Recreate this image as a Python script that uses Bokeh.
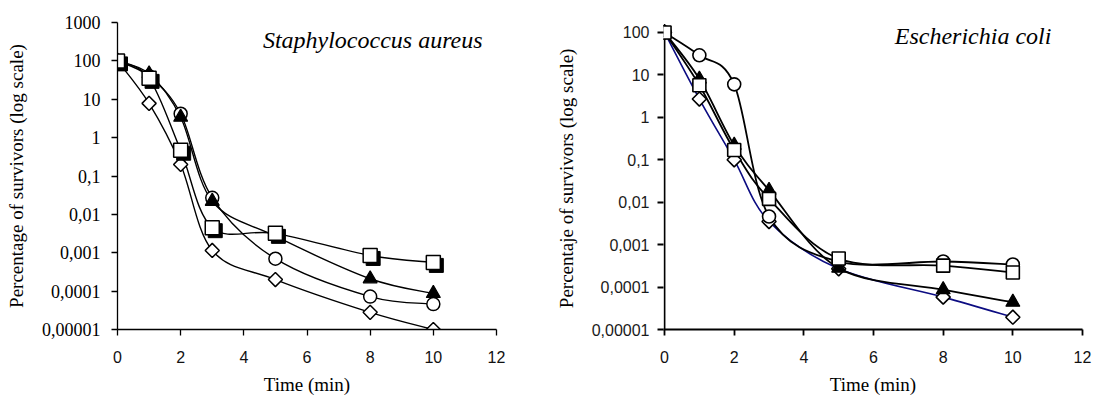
import numpy as np
from bokeh.plotting import figure
from bokeh.models import FixedTicker, Label, ColumnDataSource
from bokeh.layouts import row
from bokeh.embed import file_html
from bokeh.resources import INLINE

# ---------------- data ----------------
time = [0, 1, 2, 3, 5, 8, 10]

sa_circle = [100, 40, 4.2, 0.027, 0.0007, 0.000072, 0.000046]
sa_triangle = [100, 46, 3.4, 0.022, 0.0027, 0.00021, 0.000087]
sa_square = [100, 35, 0.47, 0.0045, 0.0032, 0.00085, 0.00056]
sa_diamond = [100, 7.8, 0.2, 0.00115, 0.0002, 0.000028, 0.00001]

ec_circle = [100, 29, 6, 0.0046, 0.0004, 0.0004, 0.00034]
ec_triangle = [100, 8, 0.22, 0.019, 0.00028, 0.000087, 0.000044]
ec_square = [100, 5.7, 0.17, 0.012, 0.00047, 0.00032, 0.00022]
ec_diamond = [100, 2.7, 0.1, 0.0035, 0.00027, 0.000058, 0.0000195]

x_ticks = [0, 2, 4, 6, 8, 10, 12]
sa_y_ticks = [1e-5, 1e-4, 1e-3, 1e-2, 1e-1, 1, 10, 100, 1000]
sa_y_labels = ["0,00001", "0,0001", "0,001", "0,01", "0,1", "1", "10", "100", "1000"]
ec_y_ticks = [1e-5, 1e-4, 1e-3, 1e-2, 1e-1, 1, 10, 100]
ec_y_labels = ["0,00001", "0,0001", "0,001", "0,01", "0,1", "1", "10", "100"]

title_sa = "Staphylococcus  aureus"
title_ec = "Escherichia  coli"
xlabel = "Time (min)"
ylabel_sa = "Percentage of survivors (log scale)"
ylabel_ec = "Percentaje of  survivors (log scale)"

SERIF = "Liberation Serif"
SANS = "Liberation Sans"

FIG_H = 398
TOP = 22
BOTTOM = 69


def smooth_source(x, y):
    """Excel-like smoothed line: cubic Bezier segments through the data
    (Catmull-Rom tangents in x / log10(y) space)."""
    X = np.asarray(x, float)
    L = np.log10(np.asarray(y, float))
    n = len(X)

    def P(i):
        i = min(max(i, 0), n - 1)
        return X[i], L[i]

    d = dict(x0=[], y0=[], x1=[], y1=[], cx0=[], cy0=[], cx1=[], cy1=[])
    for i in range(n - 1):
        xa, la = P(i)
        xb, lb = P(i + 1)
        xm, lm = P(i - 1)
        xp, lp = P(i + 2)
        d["x0"].append(xa); d["y0"].append(10 ** la)
        d["x1"].append(xb); d["y1"].append(10 ** lb)
        d["cx0"].append(xa + (xb - xm) / 6); d["cy0"].append(10 ** (la + (lb - lm) / 6))
        d["cx1"].append(xb - (xp - xa) / 6); d["cy1"].append(10 ** (lb - (lp - la) / 6))
    return ColumnDataSource(d)


def style_axes(p, tick_font, tick_size, y_ticks, y_labels, ylabel, axis_w, tick_color,
               y_tick_standoff, y_label_standoff):
    p.xgrid.visible = False
    p.ygrid.visible = False
    p.outline_line_color = None
    p.xaxis.ticker = FixedTicker(ticks=x_ticks)
    p.yaxis.ticker = FixedTicker(ticks=y_ticks)
    p.yaxis.major_label_overrides = {t: l for t, l in zip(y_ticks, y_labels)}
    for ax in (p.xaxis[0], p.yaxis[0]):
        ax.axis_line_width = axis_w
        ax.axis_line_color = "black"
        ax.major_tick_line_color = "black"
        ax.major_tick_line_width = axis_w
        ax.major_tick_in = 0
        ax.major_tick_out = 6
        ax.minor_tick_line_color = None
        ax.axis_label_text_font = SERIF
        ax.axis_label_text_font_style = "normal"
        ax.axis_label_text_font_size = "19px"
        ax.axis_label_text_color = "black"
        ax.axis_label_text_line_height = 1.0
        ax.major_label_text_line_height = 1.0
    p.xaxis.major_label_text_font = SANS
    p.xaxis.major_label_text_font_size = "16px"
    p.xaxis.major_label_text_color = "#111111"
    p.xaxis.major_label_standoff = 15
    p.xaxis.axis_label = xlabel
    p.xaxis.axis_label_standoff = 8
    p.yaxis.major_label_text_font = tick_font
    p.yaxis.major_label_text_font_size = tick_size
    p.yaxis.major_label_text_color = tick_color
    p.yaxis.major_label_standoff = y_tick_standoff
    p.yaxis.axis_label = ylabel
    p.yaxis.axis_label_standoff = y_label_standoff


# ---------------- left: Staphylococcus aureus ----------------
p1 = figure(width=508, height=FIG_H, x_range=(0, 12), y_range=(1e-5, 1e3),
            y_axis_type="log", output_backend="svg", toolbar_location=None,
            min_border_left=117, min_border_right=12, min_border_top=TOP,
            min_border_bottom=BOTTOM)
style_axes(p1, SERIF, "18px", sa_y_ticks, sa_y_labels, ylabel_sa, 1.3, "black", 11, 12)

for ys in (sa_diamond, sa_circle, sa_triangle, sa_square):
    p1.bezier("x0", "y0", "x1", "y1", "cx0", "cy0", "cx1", "cy1",
              source=smooth_source(time, ys), line_color="black", line_width=1.4)

p1.scatter(time, sa_diamond, marker="square", angle=np.pi / 4, size=10,
           fill_color="white", line_color="black", line_width=1.5)
p1.scatter(time, sa_circle, marker="circle", size=13,
           fill_color="white", line_color="black", line_width=1.5)
p1.scatter(time, sa_triangle, marker="triangle", size=14,
           fill_color="black", line_color="black", line_width=1.2)
# square markers with a drop shadow (3 px down-right)
px_x = 379 / 12.0          # px per x unit
px_dec = 307 / 8.0         # px per decade
sh_x = [t + 3 / px_x for t in time]
sh_y = [v * 10 ** (-3 / px_dec) for v in sa_square]
p1.scatter(sh_x, sh_y, marker="square", size=14, fill_color="black",
           line_color="black", line_width=1)
p1.scatter(time, sa_square, marker="square", size=14,
           fill_color="white", line_color="black", line_width=1.5)

p1.add_layout(Label(x=11.75, y=10 ** 2.557, text=title_sa, text_align="right",
                    text_baseline="alphabetic", text_font=SERIF,
                    text_font_style="italic", text_font_size="24px",
                    text_color="black"))

# ---------------- right: Escherichia coli ----------------
# 100 sits 10 px below the frame top (as in the reference)
ec_top = 10 ** (2 + 10 / 42.5)
p2 = figure(width=585, height=FIG_H, x_range=(-0.03, 12), y_range=(1e-5, ec_top),
            y_axis_type="log", output_backend="svg", toolbar_location=None,
            min_border_left=155, min_border_right=11, min_border_top=TOP,
            min_border_bottom=BOTTOM)
style_axes(p2, SANS, "16px", ec_y_ticks, ec_y_labels, ylabel_ec, 1.8, "#1a1a1a", 8, 12)
p2.yaxis.axis_line_color = None
# y axis line drawn from the lowest to the highest tick
p2.segment(x0=[0], y0=[ec_y_ticks[0]], x1=[0], y1=[ec_y_ticks[-1]],
           line_color="black", line_width=1.8)

p2.bezier("x0", "y0", "x1", "y1", "cx0", "cy0", "cx1", "cy1",
          source=smooth_source(time, ec_diamond), line_color="#0c0c82", line_width=1.6)
for ys in (ec_circle, ec_triangle, ec_square):
    p2.bezier("x0", "y0", "x1", "y1", "cx0", "cy0", "cx1", "cy1",
              source=smooth_source(time, ys), line_color="black", line_width=1.8)

p2.scatter(time, ec_diamond, marker="square", angle=np.pi / 4, size=10,
           fill_color="white", line_color="black", line_width=1.6)
p2.scatter(time, ec_circle, marker="circle", size=13,
           fill_color="white", line_color="black", line_width=1.6)
p2.scatter(time, ec_triangle, marker="triangle", size=14,
           fill_color="black", line_color="black", line_width=1.2)
p2.scatter(time, ec_square, marker="square", size=13,
           fill_color="white", line_color="black", line_width=1.6)

p2.add_layout(Label(x=11.28, y=10 ** 1.906, text=title_ec, text_align="right",
                    text_baseline="alphabetic", text_font=SERIF,
                    text_font_style="italic", text_font_size="24px",
                    text_color="black"))

layout = row(p1, p2, width=1093)
open("out.html", "w").write(file_html(layout, INLINE))
